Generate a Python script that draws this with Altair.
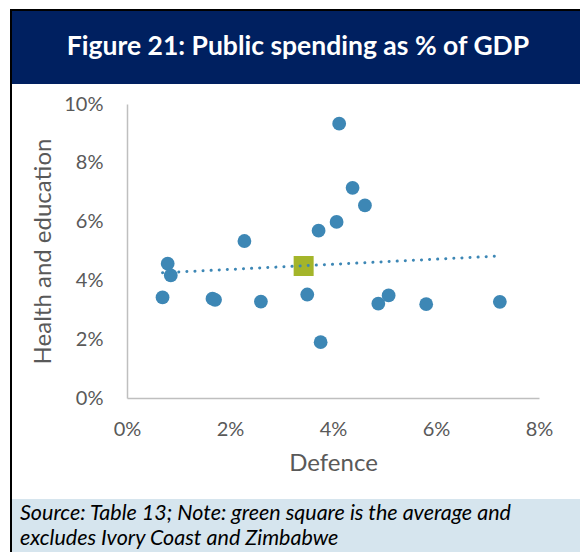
import altair as alt
import pandas as pd

# ---- data ----
defence = [4.12, 4.38, 4.62, 4.07, 3.72, 2.28, 0.79, 0.85, 0.69, 1.66, 1.71, 2.60, 3.50, 3.76, 4.88, 5.08, 5.81, 7.24]
health = [9.33, 7.15, 6.55, 5.99, 5.69, 5.34, 4.57, 4.17, 3.42, 3.38, 3.34, 3.28, 3.52, 1.90, 3.21, 3.49, 3.19, 3.27]
avg_defence = [3.43]
avg_health = [4.49]
trend_x = [0.69, 7.24]
trend_y = [4.26, 4.83]

title_text = "Figure 21: Public spending as % of GDP"
x_title = "Defence"
y_title = "Health and education"
note_lines = ["Source: Table 13; Note: green square is the average and",
              "excludes Ivory Coast and Zimbabwe"]

FONT = "Lato"
W, H = 412, 294
PL, PT = 127, 104
TOTAL_W, TOTAL_H = 580, 552

pts = pd.DataFrame({"x": defence, "y": health})
avg = pd.DataFrame({"x": avg_defence, "y": avg_health})
trend = pd.DataFrame({"x": trend_x, "y": trend_y})

xs = alt.Scale(domain=[0, 8], nice=False, zero=True)
ys = alt.Scale(domain=[0, 10], nice=False, zero=True)

x_axis = alt.Axis(values=[0, 2, 4, 6, 8], labelExpr="datum.value + '%'", grid=False, ticks=False,
                  labelFlush=False, labelOverlap=False,
                  domainColor="#BFBFBF", domainWidth=1.5, labelColor="#595959", labelFont=FONT,
                  labelFontSize=20, labelPadding=21, title=x_title, titleFont=FONT, titleFontSize=24,
                  titleColor="#595959", titleFontWeight="normal", titlePadding=12)
y_axis = alt.Axis(values=[0, 2, 4, 6, 8, 10], labelExpr="datum.value + '%'", grid=False, ticks=False,
                  labelFlush=False, labelOverlap=False,
                  domainColor="#BFBFBF", domainWidth=1.5, labelColor="#595959", labelFont=FONT,
                  labelFontSize=20, labelPadding=24, title=y_title, titleFont=FONT, titleFontSize=24,
                  titleColor="#595959", titleFontWeight="normal", titlePadding=8)

# decorations (pixel positions relative to plot origin)
deco_df = pd.DataFrame({"k": [0]})
def rect(x, x2, y, y2, color):
    return alt.Chart(deco_df).mark_rect(color=color, clip=False).encode(
        x=alt.value(x - PL), x2=alt.value(x2 - PL), y=alt.value(y - PT), y2=alt.value(y2 - PT))

footer = rect(12, 580, 499, 552, "#D6E5EE")
navy = rect(12, 580, 11, 84, "#002060")
top_line = rect(10, 580, 9, 11, "#000000")
left_line = rect(10, 12, 9, 552, "#000000")

def text(s, x, y, size, **kw):
    return alt.Chart(deco_df).mark_text(font=FONT, fontSize=size, baseline="middle", **kw).encode(
        x=alt.value(x - PL), y=alt.value(y - PT), text=alt.value(s))

title = text(title_text, 298, 47, 26.5, fontWeight="bold", color="#FFFFFF", align="center")
notes1 = text(note_lines[0], 20, 514, 21.5, fontStyle="italic", color="#000000", align="left")
notes2 = text(note_lines[1], 20, 539, 21.5, fontStyle="italic", color="#000000", align="left")

scatter = alt.Chart(pts).mark_circle(size=190, color="#3D87B5", opacity=1).encode(
    x=alt.X("x:Q", scale=xs, axis=x_axis),
    y=alt.Y("y:Q", scale=ys, axis=y_axis))

avg_mark = alt.Chart(avg).mark_square(size=400, color="#A4B52A", opacity=1).encode(
    x=alt.X("x:Q", scale=xs), y=alt.Y("y:Q", scale=ys))

trend_line = alt.Chart(trend).mark_line(color="#3D87B5", strokeWidth=3, strokeCap="round",
                                        strokeDash=[0.1, 8]).encode(
    x=alt.X("x:Q", scale=xs), y=alt.Y("y:Q", scale=ys))

chart = alt.layer(footer, navy, top_line, left_line, title, notes1, notes2,
                  scatter, avg_mark, trend_line).properties(
    width=W, height=H,
    autosize=alt.AutoSizeParams(type="none"),
    padding={"left": PL, "top": PT, "right": TOTAL_W - PL - W, "bottom": TOTAL_H - PT - H},
    background="#FFFFFF",
).configure_view(stroke=None)

chart.save("out.html", embed_options={"renderer": "svg", "actions": False})
